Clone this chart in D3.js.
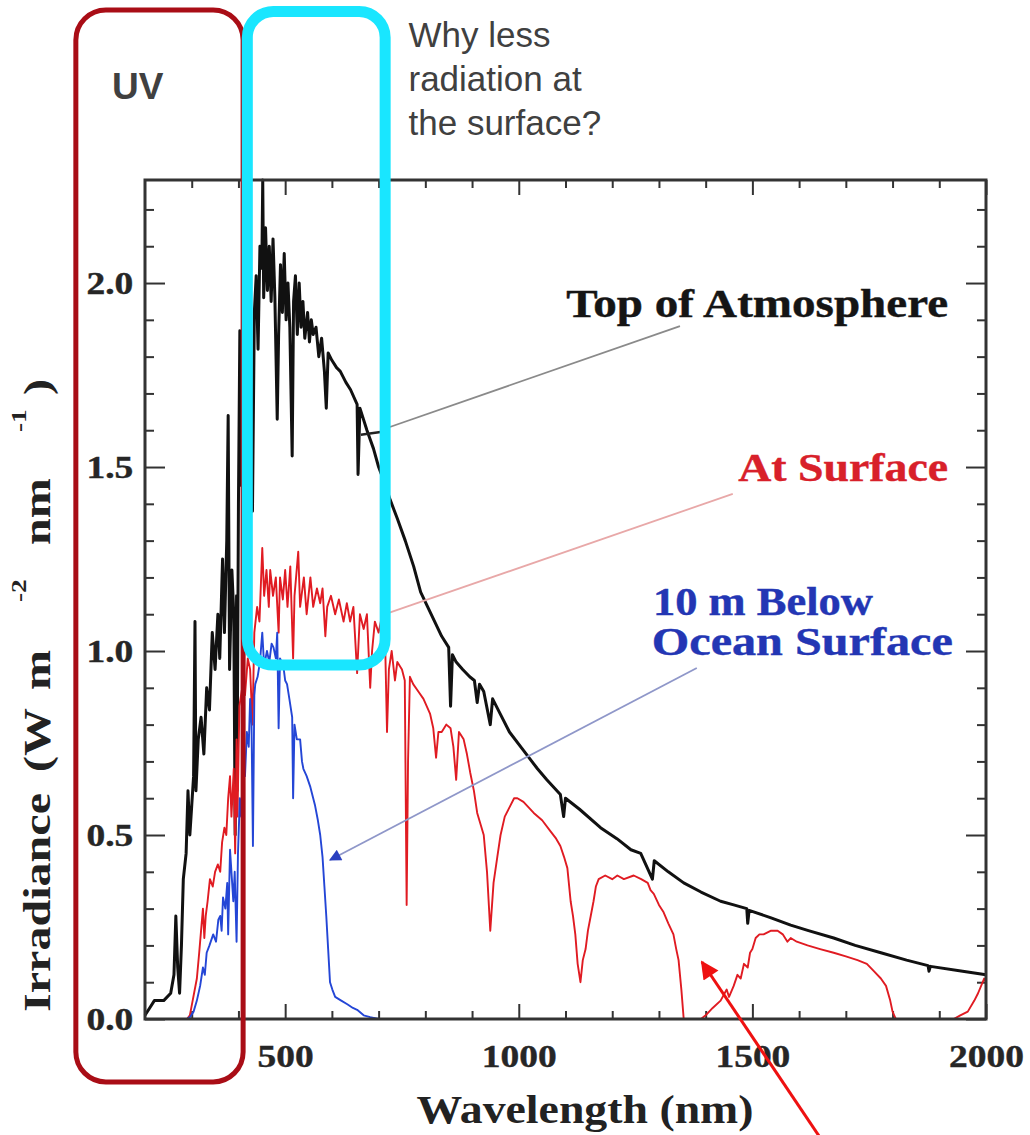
<!DOCTYPE html>
<html><head><meta charset="utf-8">
<script src="https://cdn.jsdelivr.net/npm/d3@7"></script>
<style>body{margin:0;background:#fff}svg{display:block}</style>
</head><body><svg id="c" width="1030" height="1135"></svg>
<script>
// ---------- data ----------
const toaNm = [200,210,220,240,255,262,266,270,274,278,282,288,292,296,300,304,307,309,314,320,326,332,338,344,350,356,360,366,370,375,378,381,386,390,393,396,397,400,403,406,410,414,420,425,430,434,438,442,446,450,452,454,458,462,466,470,474,478,483,486,490,494,498,502,506,510,515,518,522,526,530,534,538,542,548,552,556,560,566,572,578,584,588,592,600,610,618,630,640,654,656,660,675,689,700,712,725,740,757,775,790,805,820,835,850,854,858,866,880,895,905,911,916,925,939,944,960,980,1010,1040,1060,1089,1096,1100,1130,1175,1210,1240,1261,1286,1290,1320,1353,1390,1432,1460,1488,1490,1493,1540,1582,1620,1674,1720,1775,1830,1876,1878,1881,1950,2000];
const toaIrr = [0.01,0.03,0.05,0.05,0.07,0.12,0.28,0.14,0.07,0.20,0.38,0.45,0.62,0.50,0.58,0.66,1.08,0.62,0.76,0.82,0.72,0.90,0.84,1.05,0.95,1.10,0.98,1.25,1.05,1.30,1.64,0.95,1.22,1.10,0.50,1.15,0.62,1.40,1.87,1.45,1.72,1.55,1.85,1.75,1.38,1.92,2.02,1.82,2.10,2.04,2.28,1.96,2.15,1.98,2.10,1.95,2.12,1.96,1.63,1.86,2.05,1.92,2.08,1.90,2.00,1.88,1.53,1.95,2.02,1.86,2.00,1.88,1.95,1.85,1.92,1.84,1.90,1.86,1.88,1.80,1.85,1.76,1.66,1.81,1.79,1.77,1.76,1.73,1.71,1.67,1.48,1.66,1.60,1.55,1.50,1.46,1.41,1.36,1.30,1.23,1.16,1.12,1.08,1.04,1.01,0.85,0.99,0.97,0.95,0.93,0.92,0.86,0.91,0.89,0.80,0.87,0.83,0.78,0.73,0.68,0.65,0.61,0.55,0.60,0.57,0.52,0.49,0.46,0.45,0.38,0.43,0.40,0.37,0.345,0.32,0.31,0.30,0.26,0.295,0.275,0.255,0.24,0.22,0.20,0.18,0.16,0.145,0.13,0.143,0.13,0.12];

const surfNm = [290,296,302,311,316,320,324,327,330,334,339,345,350,356,361,365,370,374,378,382,385,390,393,396,398,402,408,414,420,425,430,434,440,445,451,455,460,465,468,474,480,486,489,495,500,505,511,517,520,528,532,540,546,554,560,568,575,580,586,590,598,607,615,625,632,639,646,654,660,668,675,682,686,692,700,708,714,718,722,728,735,740,750,756,760,763,767,774,785,796,810,817,823,828,835,845,854,860,866,872,882,889,896,904,911,918,925,932,939,946,954,961,970,982,990,997,1010,1032,1050,1068,1080,1089,1097,1104,1111,1116,1121,1126,1132,1137,1143,1148,1154,1160,1165,1171,1185,1200,1211,1225,1246,1262,1276,1282,1289,1300,1310,1320,1331,1337,1342,1348,1353,1390,1400,1415,1432,1445,1450,1460,1468,1475,1482,1490,1495,1500,1507,1515,1524,1540,1554,1565,1575,1582,1595,1618,1645,1674,1700,1725,1745,1760,1775,1786,1795,1800,1807,1931,1945,1961,1975,1983,1996,2000];
const surfIrr = [0,0.01,0.05,0.11,0.18,0.24,0.30,0.22,0.28,0.32,0.38,0.36,0.40,0.42,0.40,0.48,0.52,0.50,0.60,0.66,0.55,0.68,0.45,0.76,0.55,0.85,0.90,0.88,0.98,0.95,0.80,1.05,1.12,1.08,1.28,1.15,1.22,1.12,1.22,1.15,1.20,1.05,1.20,1.14,1.22,1.12,1.23,0.98,1.15,1.27,1.12,1.20,1.10,1.20,1.12,1.17,1.13,1.17,1.04,1.12,1.15,1.10,1.14,1.08,1.13,1.08,1.12,0.94,1.10,1.06,1.10,0.90,1.00,1.08,1.05,1.10,1.02,0.78,0.95,1.00,0.92,0.97,0.95,0.92,0.31,0.70,0.93,0.91,0.89,0.87,0.83,0.79,0.71,0.78,0.78,0.80,0.79,0.74,0.65,0.78,0.76,0.72,0.67,0.62,0.56,0.53,0.50,0.40,0.24,0.37,0.44,0.50,0.55,0.58,0.60,0.60,0.59,0.56,0.54,0.51,0.49,0.47,0.44,0.41,0.32,0.28,0.23,0.15,0.10,0.16,0.19,0.24,0.28,0.32,0.36,0.38,0.39,0.38,0.39,0.38,0.39,0.38,0.37,0.35,0.34,0.31,0.29,0.26,0.23,0.19,0.16,0.08,0,0,0.01,0.03,0.05,0.08,0.06,0.09,0.12,0.11,0.15,0.14,0.18,0.19,0.22,0.23,0.23,0.24,0.24,0.23,0.21,0.22,0.21,0.20,0.19,0.18,0.17,0.16,0.15,0.13,0.11,0.09,0.05,0.02,0,0,0.01,0.02,0.05,0.07,0.11,0.10];

const oceanNm = [290,296,304,311,318,324,328,332,338,346,352,357,361,364,367,372,376,378,382,386,389,392,396,399,403,406,410,414,418,422,425,428,431,434,436,441,446,451,455,461,466,471,475,480,483,486,489,496,500,504,509,515,517,520,525,532,536,539,546,554,560,564,570,575,580,584,588,592,596,601,607,620,633,645,654,668,682,700];
const oceanIrr = [0,0.005,0.02,0.05,0.09,0.14,0.12,0.18,0.20,0.23,0.21,0.27,0.28,0.24,0.33,0.30,0.37,0.23,0.46,0.38,0.32,0.40,0.21,0.45,0.60,0.55,0.70,0.66,0.78,0.74,0.87,0.80,0.47,0.88,0.91,0.93,0.97,1.05,0.96,1.00,0.97,1.02,1.01,0.98,1.05,0.79,0.98,0.96,0.92,0.91,0.87,0.82,0.60,0.80,0.76,0.76,0.70,0.68,0.66,0.63,0.60,0.58,0.54,0.50,0.44,0.36,0.28,0.19,0.10,0.08,0.06,0.05,0.04,0.03,0.025,0.01,0.005,0];

const xMajorTicks = [500,1000,1500,2000];
const xMinorTicks = [300,400,600,700,800,900,1100,1200,1300,1400,1600,1700,1800,1900];
const yMajorTicks = [0,0.5,1.0,1.5,2.0];
const yMinorTicks = [0.1,0.2,0.3,0.4,0.6,0.7,0.8,0.9,1.1,1.2,1.3,1.4,1.6,1.7,1.8,1.9,2.1,2.2];

const seriesLabels = ["Top of Atmosphere","At Surface","10 m Below","Ocean Surface"];
const xTitle = "Wavelength (nm)";
const questionLines = ["Why less","radiation at","the surface?"];

// ---------- drawing ----------
const svg = d3.select("#c");
svg.append("rect").attr("width",1030).attr("height",1135).attr("fill","#fff");
const x = d3.scaleLinear().domain([200,2000]).range([145,986]);
const y = d3.scaleLinear().domain([0,2.28]).range([1019,180]);
const SX = 1.17; // horizontal stretch of the original figure's text
const serif = "'Liberation Serif','Times New Roman',serif";
const sans = "'Liberation Sans',Arial,sans-serif";

function styleAxis(g){
  g.select(".domain").remove();
  g.selectAll(".tick line").attr("stroke","#333").attr("stroke-width",2);
  g.selectAll(".tick text").attr("font-family",serif).attr("font-weight","bold")
   .attr("font-size",32).attr("fill","#262626").attr("stroke","#262626").attr("stroke-width",0.4)
   .attr("transform",`scale(${SX},1)`);
}
const noLab = () => "";
// bottom
svg.append("g").attr("transform",`translate(0,${y(0)})`)
  .call(d3.axisBottom(x).tickValues(xMinorTicks).tickSize(-8).tickFormat(noLab)).call(styleAxis);
svg.append("g").attr("transform",`translate(0,${y(0)})`)
  .call(d3.axisBottom(x).tickValues(xMajorTicks).tickSize(-15).tickPadding(25).tickFormat(d3.format("d"))).call(styleAxis);
// top
svg.append("g").attr("transform",`translate(0,${y(2.28)})`)
  .call(d3.axisTop(x).tickValues(xMinorTicks).tickSize(-8).tickFormat(noLab)).call(styleAxis);
svg.append("g").attr("transform",`translate(0,${y(2.28)})`)
  .call(d3.axisTop(x).tickValues(xMajorTicks).tickSize(-15).tickFormat(noLab)).call(styleAxis);
// left
svg.append("g").attr("transform",`translate(${x(200)},0)`)
  .call(d3.axisLeft(y).tickValues(yMinorTicks).tickSize(-9).tickFormat(noLab)).call(styleAxis);
svg.append("g").attr("transform",`translate(${x(200)},0)`)
  .call(d3.axisLeft(y).tickValues(yMajorTicks).tickSize(-20).tickPadding(10).tickFormat(d3.format(".1f"))).call(styleAxis);
// right
svg.append("g").attr("transform",`translate(${x(2000)},0)`)
  .call(d3.axisRight(y).tickValues(yMinorTicks).tickSize(-9).tickFormat(noLab)).call(styleAxis);
svg.append("g").attr("transform",`translate(${x(2000)},0)`)
  .call(d3.axisRight(y).tickValues(yMajorTicks).tickSize(-20).tickFormat(noLab)).call(styleAxis);

// curves
const line = d3.line().x(d=>x(d[0])).y(d=>y(d[1]));
const zip = (a,b)=>a.map((v,i)=>[v,b[i]]);
svg.append("path").datum(zip(toaNm,toaIrr)).attr("d",line).attr("fill","none")
  .attr("stroke","#111").attr("stroke-width",3).attr("stroke-linejoin","round");
svg.append("path").datum(zip(surfNm,surfIrr)).attr("d",line).attr("fill","none")
  .attr("stroke","#e01b22").attr("stroke-width",1.9).attr("stroke-linejoin","round");
svg.append("path").datum(zip(oceanNm,oceanIrr)).attr("d",line).attr("fill","none")
  .attr("stroke","#2446d6").attr("stroke-width",1.9).attr("stroke-linejoin","round");

// frame
svg.append("rect").attr("x",x(200)).attr("y",y(2.28)).attr("width",x(2000)-x(200)).attr("height",y(0)-y(2.28))
  .attr("fill","none").attr("stroke","#333").attr("stroke-width",3);

// leader lines (data coordinates)
const defs = svg.append("defs");
defs.append("marker").attr("id","arrB").attr("viewBox","0 0 10 10").attr("refX",9).attr("refY",5)
  .attr("markerUnits","userSpaceOnUse").attr("markerWidth",22).attr("markerHeight",12).attr("orient","auto")
  .append("path").attr("d","M0,0 L10,5 L0,10 Z").attr("fill","#2a3fc0");
defs.append("marker").attr("id","arrR").attr("viewBox","0 0 10 10").attr("refX",9).attr("refY",5)
  .attr("markerUnits","userSpaceOnUse").attr("markerWidth",24).attr("markerHeight",18).attr("orient","auto")
  .append("path").attr("d","M0,0 L10,5 L0,10 Z").attr("fill","#ee1111");

const leaders = [
  {a:[1345,1.883], b:[704,1.60], c:"#8a8a8a", w:1.8},
  {a:[1458,1.427], b:[714,1.10], c:"#e8a8a8", w:1.8},
  {a:[1381,0.954], b:[596,0.432], c:"#8f97c9", w:1.8, m:"url(#arrB)"}
];
leaders.forEach(l=>{
  svg.append("line").attr("x1",x(l.a[0])).attr("y1",y(l.a[1])).attr("x2",x(l.b[0])).attr("y2",y(l.b[1]))
    .attr("stroke",l.c).attr("stroke-width",l.w).attr("marker-end",l.m||null);
});
svg.append("line").attr("x1",x(662)).attr("y1",y(1.588)).attr("x2",x(704)).attr("y2",y(1.595))
  .attr("stroke","#222").attr("stroke-width",2.5);

// series labels
function stretchText(str, xr, yb, len, size, fill){
  return svg.append("text").attr("x",xr).attr("y",yb).attr("text-anchor","end")
    .attr("font-family",serif).attr("font-weight","bold").attr("font-size",size).attr("fill",fill)
    .attr("stroke",fill).attr("stroke-width",0.4)
    .attr("textLength",len).attr("lengthAdjust","spacingAndGlyphs").text(str);
}
stretchText(seriesLabels[0], x(1919), y(1.908), 382, 39, "#151515");
stretchText(seriesLabels[1], x(1919), y(1.462), 210, 39, "#d8202a");
stretchText(seriesLabels[2], x(1758), y(1.098), 220, 39, "#2336b4");
stretchText(seriesLabels[3], x(1929), y(0.989), 301, 39, "#2336b4");

// x title
svg.append("text").attr("x",585).attr("y",1123).attr("text-anchor","middle")
  .attr("font-family",serif).attr("font-weight","bold").attr("font-size",39).attr("fill","#222")
  .attr("textLength",337).attr("lengthAdjust","spacingAndGlyphs").text(xTitle);

// y title (rotated, superscripts), segments placed along the axis
const ySeg = [
  {t:"Irradiance", d:0, sup:false},
  {t:"(W", d:240, sup:false},
  {t:"m", d:322, sup:false},
  {t:"-2", d:410, sup:true},
  {t:"nm", d:467, sup:false},
  {t:"-1", d:580, sup:true},
  {t:")", d:617, sup:false}
];
const LS = 1.3;
const yt = svg.append("g").attr("transform",`translate(50,1012) rotate(-90) scale(${LS},1)`);
ySeg.forEach(s=>{
  yt.append("text").attr("x",s.d/LS).attr("y",s.sup?-24:0)
    .attr("font-family",serif).attr("font-weight","bold").attr("font-size",s.sup?21:37).attr("fill","#222")
    .text(s.t);
});

// overlay annotations (defined in data coordinates)
const boxes = [
  {x0:52, x1:410, y0:2.742, y1:-0.171, c:"#a90d16", w:5, r:30},
  {x0:419, x1:714, y0:2.738, y1:0.962, c:"#19e6ff", w:11, r:26}
];
boxes.forEach(b=>{
  svg.append("rect").attr("x",x(b.x0)).attr("y",y(b.y0)).attr("width",x(b.x1)-x(b.x0)).attr("height",y(b.y1)-y(b.y0))
    .attr("rx",b.r).attr("ry",b.r).attr("fill","none").attr("stroke",b.c).attr("stroke-width",b.w);
});
svg.append("text").attr("x",112).attr("y",99).attr("font-family",sans).attr("font-weight","bold")
  .attr("font-size",37).attr("fill","#404040").text("UV");
questionLines.forEach((t,i)=>{
  svg.append("text").attr("x",x(764)).attr("y",47+i*44).attr("font-family",sans).attr("font-size",35)
    .attr("fill","#404040").text(t);
});
// red arrow pointing at the gap
svg.append("line").attr("x1",x(1649)).attr("y1",y(-0.33)).attr("x2",x(1392)).attr("y2",y(0.155))
  .attr("stroke","#ee1111").attr("stroke-width",3).attr("marker-end","url(#arrR)");
</script></body></html>
